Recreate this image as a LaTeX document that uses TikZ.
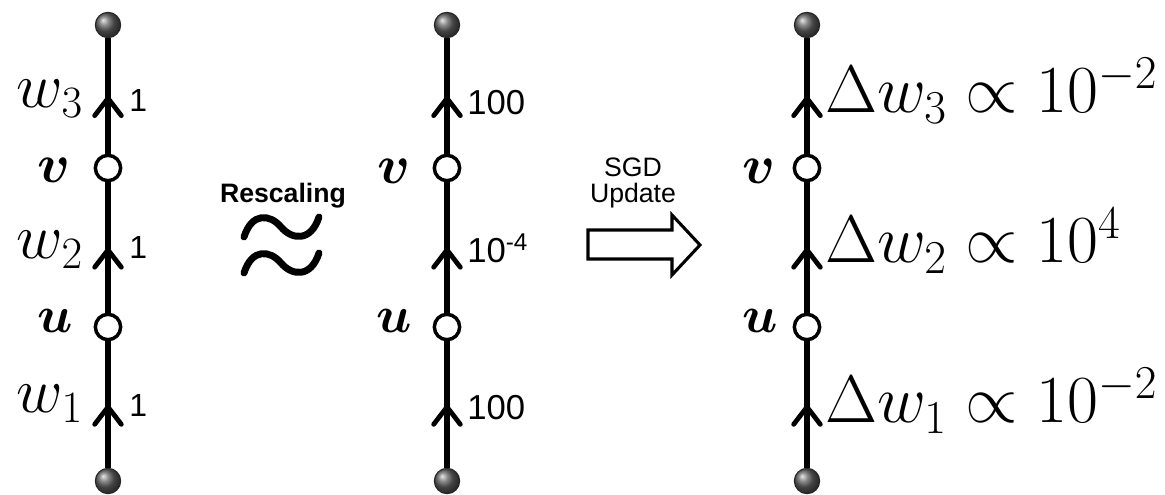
\RequirePackage{fix-cm}
\documentclass[tikz,border=0pt]{standalone}
\usepackage{amsmath,amsbsy}
\usepackage{fontspec}
\newfontfamily\arialf{Liberation Sans}
\usetikzlibrary{arrows.meta,decorations.markings}
\tikzset{
  endball/.style={circle,minimum size=19pt,inner sep=0pt,shading=ball,ball color=black!62,draw=black!85,line width=0.8pt},
  hollow/.style={circle,minimum size=19pt,inner sep=0pt,fill=white,draw=black,line width=2.6pt},
  edgeline/.style={line width=5pt,draw=black,postaction={decorate},
    decoration={markings,mark=at position 0.5 with {\arrow{Straight Barb[length=13pt,width=20pt,line width=3.6pt,round]}}}},
  mlab/.style={inner sep=0pt,font=\fontsize{48}{52}\selectfont},
  vlab/.style={inner sep=0pt,anchor=base east,font=\fontsize{41}{46}\selectfont},
  ulab/.style={inner sep=0pt,anchor=base east,font=\fontsize{39}{44}\selectfont},
  numa/.style={inner sep=0pt,anchor=base west,font=\arialf\fontsize{24}{28}\selectfont},
  numb/.style={inner sep=0pt,anchor=base west,font=\arialf\fontsize{26}{30}\selectfont},
  dlab/.style={inner sep=0pt,anchor=base west,font=\fontsize{50.5}{56}\selectfont},
  captxt/.style={inner sep=0pt,anchor=base,font=\arialf\fontsize{20}{24}\selectfont}
}
\begin{document}
\begin{tikzpicture}[x=0.75pt,y=-0.75pt]
\useasboundingbox (0,0) rectangle (1165,495);
% column 1
\node[endball] (t1) at (108,25) {};
\node[hollow] (v1) at (108,168) {};
\node[hollow] (u1) at (108,327) {};
\node[endball] (b1) at (108,481) {};
\draw[edgeline] (b1) -- (u1);
\draw[edgeline] (u1) -- (v1);
\draw[edgeline] (v1) -- (t1);
\node[mlab,anchor=base east] (lw3) at (83,108) {$w_3$};
\node[mlab,anchor=base east] (lw2) at (83,259) {$w_2$};
\node[mlab,anchor=base east] (lw1) at (83,413) {$w_1$};
\node[vlab] (lv1) at (71,183) {$\boldsymbol{v}$};
\node[ulab] (lu1) at (73,333) {$\boldsymbol{u}$};
\node[numa] (n13) at (129,112) {1};
\node[numa] (n12) at (129,259) {1};
\node[numa] (n11) at (129,417) {1};
% rescaling
\node[captxt,font=\arialf\bfseries\fontsize{20}{24}\selectfont] (resc) at (283,203) {Rescaling};
\draw[line width=5.2pt,line cap=round] (244,237) .. controls (252,212) and (270,214) .. (281,227) .. controls (292,240) and (311,242) .. (319,217);
\draw[line width=5.2pt,line cap=round] (244,273) .. controls (252,248) and (270,250) .. (281,263) .. controls (292,276) and (311,278) .. (319,253);
% column 2
\node[endball] (t2) at (447,25) {};
\node[hollow] (v2) at (447,168) {};
\node[hollow] (u2) at (447,327) {};
\node[endball] (b2) at (447,481) {};
\draw[edgeline] (b2) -- (u2);
\draw[edgeline] (u2) -- (v2);
\draw[edgeline] (v2) -- (t2);
\node[vlab] (lv2) at (411,184) {$\boldsymbol{v}$};
\node[ulab] (lu2) at (412,333) {$\boldsymbol{u}$};
\node[numb] (n23) at (467,115) {100};
\node[numb] (n22) at (467,263) {10\textsuperscript{-4}};
\node[numb] (n21) at (467,420) {100};
% SGD update
\node[captxt] (sgd) at (633,177) {SGD};
\node[captxt] (upd) at (633,203) {Update};
\draw[line width=2.3pt,line join=miter] (588,230) -- (672,230) -- (672,215) -- (700,245) -- (672,275) -- (672,259) -- (588,259) -- cycle;
% column 3
\node[endball] (t3) at (807,25) {};
\node[hollow] (v3) at (807,168) {};
\node[hollow] (u3) at (807,327) {};
\node[endball] (b3) at (807,481) {};
\draw[edgeline] (b3) -- (u3);
\draw[edgeline] (u3) -- (v3);
\draw[edgeline] (v3) -- (t3);
\node[vlab] (lv3) at (776,184) {$\boldsymbol{v}$};
\node[ulab] (lu3) at (778,333) {$\boldsymbol{u}$};
\node[dlab] (d3) at (825,113) {$\Delta w_3 \propto 10^{-2}$};
\node[dlab] (d2) at (825,263) {$\Delta w_2 \propto 10^{4}$};
\node[dlab] (d1) at (825,423) {$\Delta w_1 \propto 10^{-2}$};
\end{tikzpicture}
\end{document}
